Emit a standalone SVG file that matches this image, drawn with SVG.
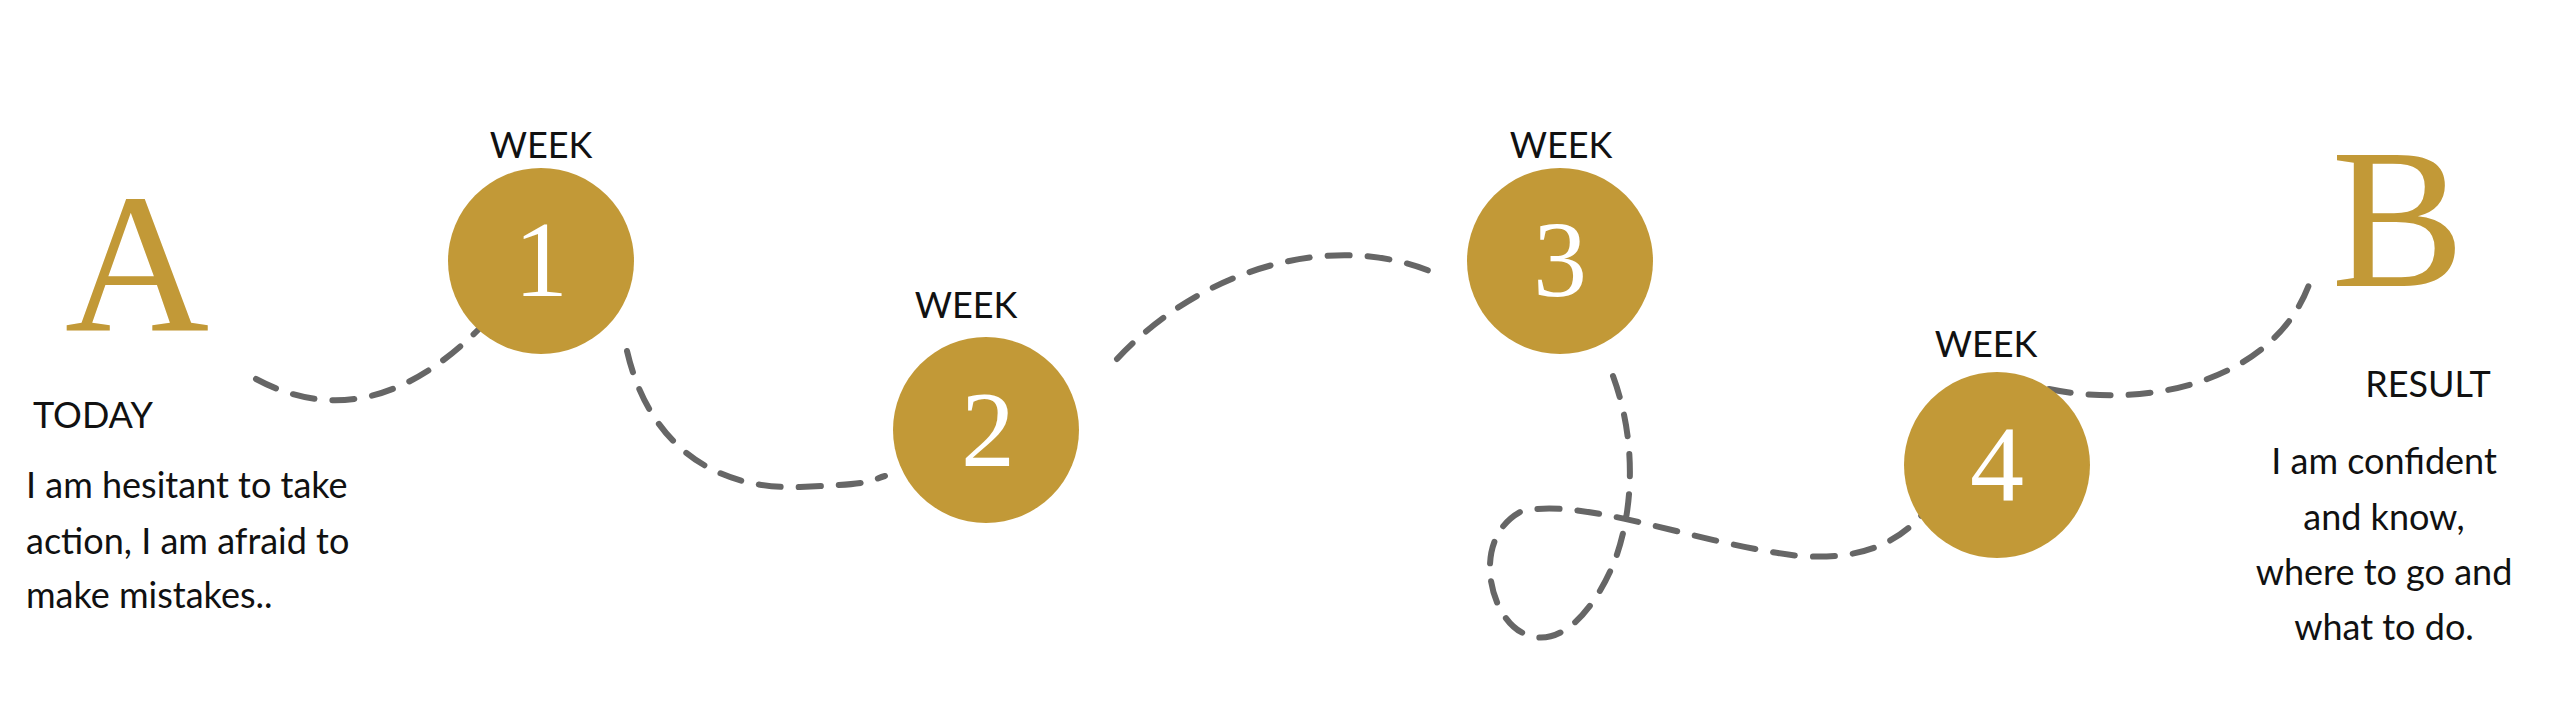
<svg xmlns="http://www.w3.org/2000/svg" width="2560" height="711" viewBox="0 0 2560 711">
<style>
.c{fill:#C29937}
.n{font-family:"Liberation Serif",serif;font-size:108px;fill:#fff;text-anchor:middle}
.big{font-family:"Liberation Serif",serif;font-size:200px;fill:#C29937;text-anchor:middle}
.w{font-family:Lato,"Open Sans",sans-serif;font-size:36px;fill:#111;text-anchor:middle}
.t{font-family:Lato,"Open Sans",sans-serif;font-size:36px;fill:#111}
.d{fill:none;stroke:#666;stroke-width:6;stroke-dasharray:22 18;stroke-linecap:round}
</style>
<rect width="2560" height="711" fill="#fff"/>
<g id="connectors">
<path class="d" d="M256,379 Q370,440 482,326"/>
<path class="d" d="M627,351 C650,450 720,490 800,487 S870,480 885,476"/>
<path class="d" d="M1117,359 C1200,270 1330,230 1432,272"/>
<path class="d" d="M1613,376 C1640,450 1630,520 1615,560 C1595,610 1560,650 1525,634 C1490,620 1470,540 1520,512 C1580,495 1700,545 1800,556 C1860,560 1900,545 1930,505"/>
<path class="d" d="M2049,389 C2150,410 2280,380 2312,276"/>
</g>
<g id="nodeA">
<text class="big" x="137" y="330">A</text>
<text class="t" x="33" y="428">TODAY</text>
<text class="t" x="26" y="498">I am hesitant to take</text>
<text class="t" x="26" y="554">action, I am afraid to</text>
<text class="t" x="26" y="608">make mistakes..</text>
</g>
<g id="week1">
<text class="w" x="541" y="158">WEEK</text>
<circle class="c" cx="541" cy="261" r="93"/>
<text class="n" x="541" y="296">1</text>
</g>
<g id="week2">
<text class="w" x="966" y="318">WEEK</text>
<circle class="c" cx="986" cy="430" r="93"/>
<text class="n" x="988" y="466">2</text>
</g>
<g id="week3">
<text class="w" x="1561" y="158">WEEK</text>
<circle class="c" cx="1560" cy="261" r="93"/>
<text class="n" x="1560" y="296">3</text>
</g>
<g id="week4">
<text class="w" x="1986" y="357">WEEK</text>
<circle class="c" cx="1997" cy="465" r="93"/>
<text class="n" x="1997" y="501">4</text>
</g>
<g id="nodeB">
<text class="big" x="2398" y="286">B</text>
<text class="w" x="2428" y="397">RESULT</text>
<text class="w" x="2384" y="474">I am confident</text>
<text class="w" x="2384" y="530">and know,</text>
<text class="w" x="2384" y="585">where to go and</text>
<text class="w" x="2384" y="640">what to do.</text>
</g>
</svg>
